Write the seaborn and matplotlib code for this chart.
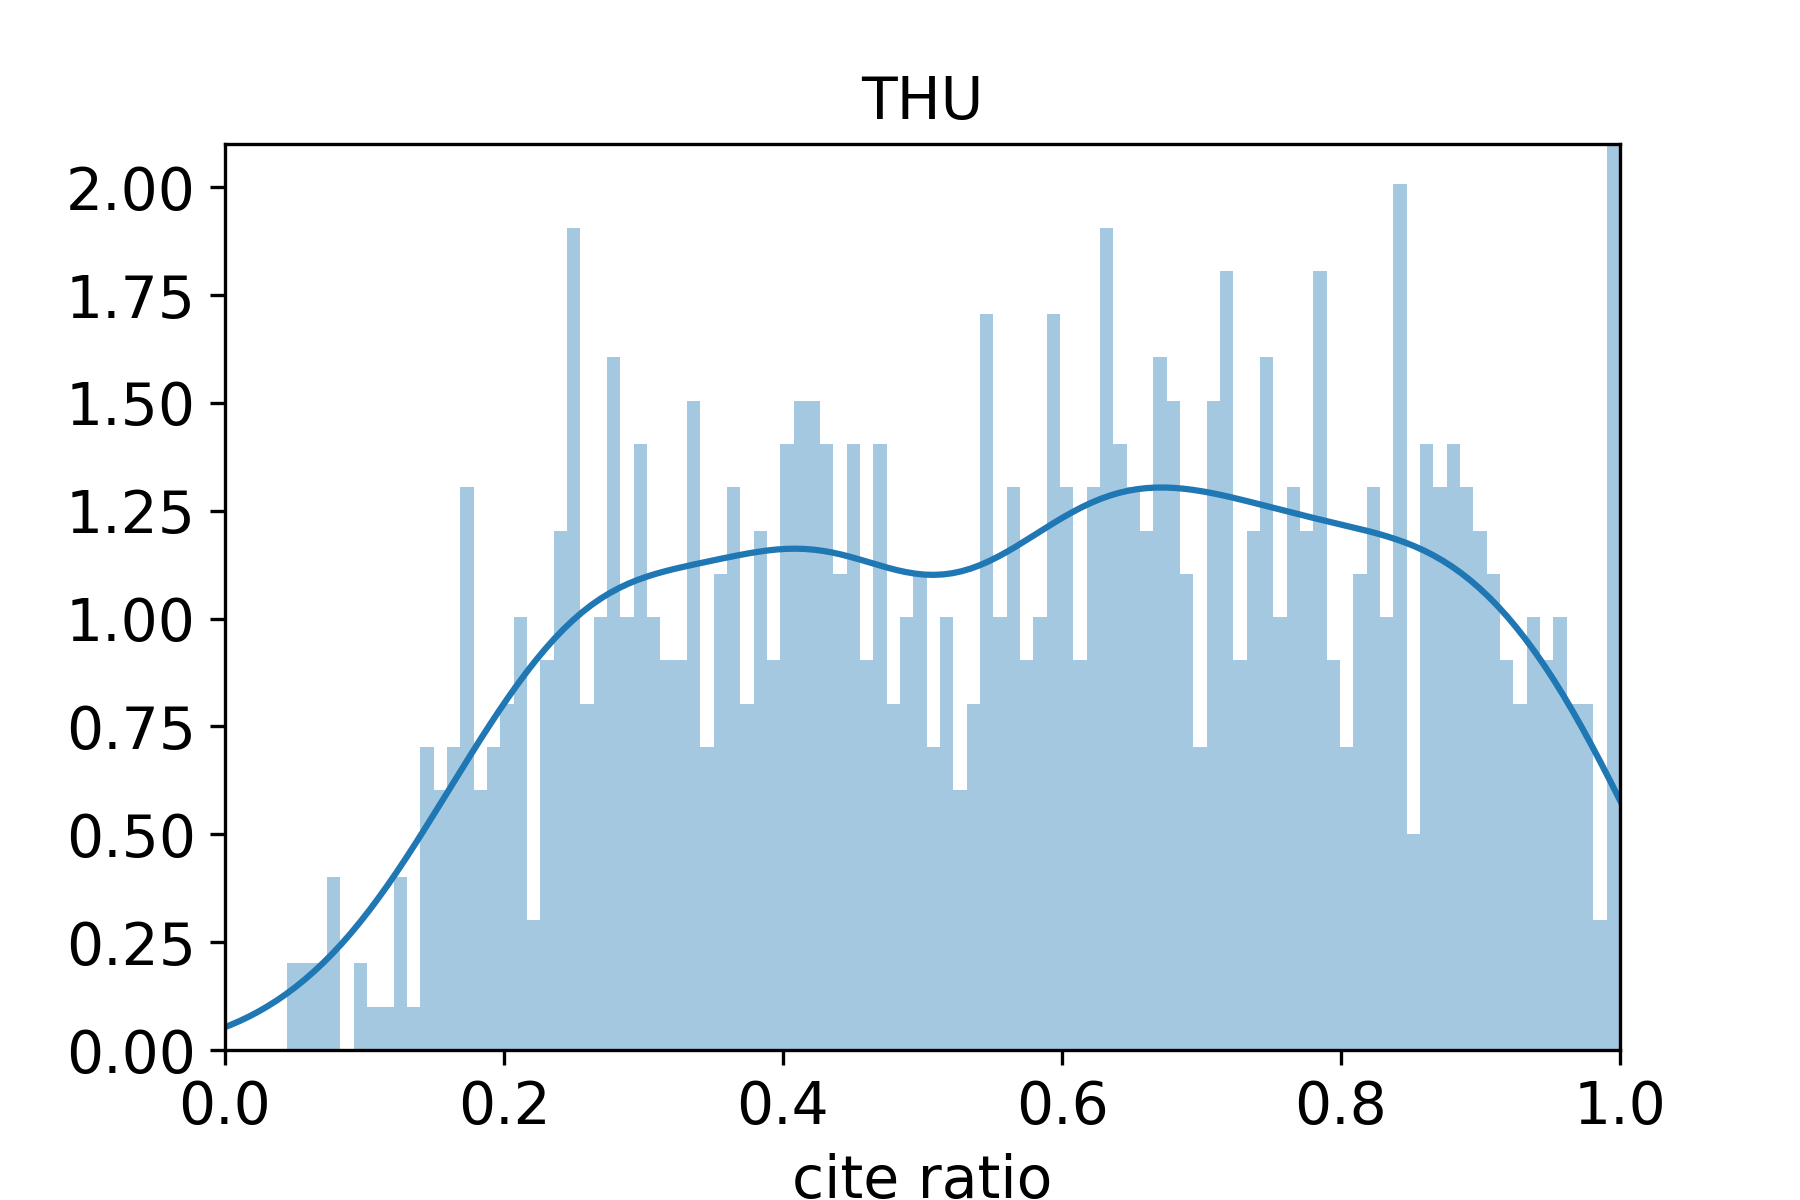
"""
THU 引用比例分布图：直方图 + KDE
"""

import numpy as np
import matplotlib
matplotlib.use("Agg")
import matplotlib.pyplot as plt
import seaborn as sns

# 数据范围（直方图分箱从最小值到最大值）
first_edge = 0.0444
last_edge = 1.0

# 100 个分箱中每箱的样本数
bin_counts = [
    2, 2, 2, 4, 0, 2, 1, 1, 4, 1,
    7, 6, 7, 13, 6, 7, 8, 10, 3, 9,
    12, 19, 8, 10, 16, 10, 14, 10, 9, 9,
    15, 7, 11, 13, 8, 12, 9, 14, 15, 15,
    14, 11, 14, 9, 14, 8, 10, 11, 7, 10,
    6, 8, 17, 10, 13, 9, 10, 17, 13, 9,
    13, 19, 14, 13, 12, 16, 15, 11, 7, 15,
    18, 9, 12, 16, 10, 13, 12, 18, 9, 7,
    11, 13, 10, 20, 5, 14, 13, 14, 13, 12,
    11, 9, 8, 10, 9, 10, 8, 8, 3, 32,
]

title = 'THU'
x_label = 'cite ratio'
y_ticks = [0.0, 0.25, 0.5, 0.75, 1.0, 1.25, 1.5, 1.75, 2.0]
x_ticks = [0.0, 0.2, 0.4, 0.6, 0.8, 1.0]

# 由分箱还原样本：取箱中心，最后一箱为比例恰好等于 1
n_bins = len(bin_counts)
bin_width = (last_edge - first_edge) / n_bins
values = first_edge + bin_width * (np.arange(n_bins) + 0.5)
values[-1] = last_edge
cite_ratio = np.repeat(values, bin_counts)

plt.rcParams['font.family'] = ['DejaVu Sans']
plt.rcParams['font.size'] = 14

fig, ax = plt.subplots(figsize=(6, 4), dpi=300)
fig.subplots_adjust(left=0.125, right=0.9, top=0.88, bottom=0.125)

sns.histplot(cite_ratio, bins=n_bins, binrange=(first_edge, last_edge),
             stat='density', color='C0', alpha=0.4, linewidth=0, ax=ax)
sns.kdeplot(cite_ratio, color='C0', linewidth=1.5, ax=ax)

ax.set_xlim(0, 1)
ax.set_ylim(0, 2.1)
ax.set_xticks(x_ticks)
ax.set_yticks(y_ticks)
ax.yaxis.set_major_formatter(matplotlib.ticker.FormatStrFormatter('%.2f'))
ax.xaxis.set_major_formatter(matplotlib.ticker.FormatStrFormatter('%.1f'))
ax.set_title(title, fontsize=14)
ax.set_xlabel(x_label, fontsize=14)
ax.set_ylabel('')

fig.savefig('out.png', dpi=300)
